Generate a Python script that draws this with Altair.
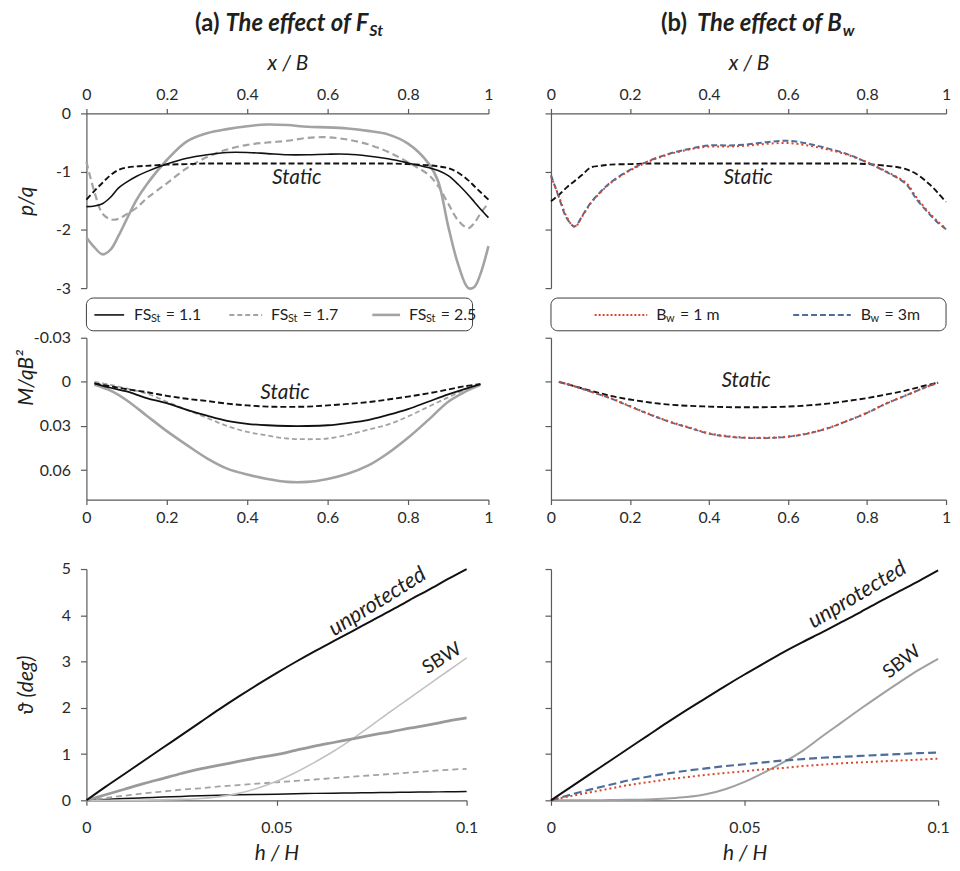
import altair as alt
import pandas as pd

FONT = "Lato"
INK = "#1f1f1f"
AX = "#5a5a5a"
RED = "#d9472b"
BLUE = "#4e6d98"
GRAY = "#a3a3a3"
LIGHT = "#c2c2c2"

# ---------------- data: pressure p/q along x/B ----------------
XB = [0, 0.02, 0.04, 0.06, 0.08, 0.1, 0.125, 0.15, 0.2, 0.25, 0.3, 0.35, 0.4, 0.45, 0.5,
      0.55, 0.6, 0.65, 0.7, 0.75, 0.8, 0.85, 0.875, 0.9, 0.925, 0.95, 0.965, 0.98, 1.0]
P_A_STATIC = [-1.48, -1.33, -1.19, -1.06, -0.97, -0.93, -0.91, -0.90, -0.88, -0.87,
              -0.86, -0.86, -0.86, -0.86, -0.86, -0.86, -0.86, -0.86, -0.86, -0.86,
              -0.87, -0.89, -0.91, -0.94, -1.02, -1.15, -1.25, -1.35, -1.48]
P_A_FS11 = [-1.60, -1.59, -1.55, -1.44, -1.28, -1.18, -1.08, -1.00, -0.87, -0.77,
            -0.71, -0.67, -0.67, -0.69, -0.71, -0.71, -0.70, -0.70, -0.73, -0.78,
            -0.85, -0.93, -0.98, -1.07, -1.22, -1.40, -1.52, -1.64, -1.79]
P_A_FS17 = [-0.83, -1.35, -1.72, -1.82, -1.81, -1.73, -1.62, -1.46, -1.20, -0.94,
            -0.75, -0.62, -0.54, -0.50, -0.47, -0.42, -0.41, -0.45, -0.53, -0.66,
            -0.84, -1.05, -1.25, -1.55, -1.84, -1.97, -1.88, -1.72, -1.54]
P_A_FS25 = [-2.13, -2.30, -2.42, -2.34, -2.10, -1.82, -1.48, -1.22, -0.80, -0.48,
            -0.34, -0.27, -0.22, -0.19, -0.20, -0.23, -0.24, -0.26, -0.30, -0.36,
            -0.52, -0.85, -1.17, -1.94, -2.60, -3.00, -2.98, -2.76, -2.28]
P_B_STATIC = [-1.51, -1.40, -1.27, -1.16, -1.05, -0.93, -0.90, -0.88, -0.87, -0.86,
              -0.86, -0.86, -0.86, -0.86, -0.86, -0.86, -0.86, -0.86, -0.86, -0.86,
              -0.87, -0.90, -0.92, -0.96, -1.04, -1.17, -1.26, -1.37, -1.52]
P_B_BW1 = [-1.08, -1.42, -1.78, -1.95, -1.76, -1.55, -1.36, -1.20, -0.98, -0.82,
           -0.70, -0.62, -0.57, -0.57, -0.55, -0.52, -0.51, -0.55, -0.62, -0.71,
           -0.84, -1.00, -1.09, -1.20, -1.44, -1.65, -1.76, -1.86, -1.98]
P_B_BW3 = [-1.06, -1.44, -1.80, -1.94, -1.75, -1.54, -1.35, -1.19, -0.97, -0.81,
           -0.69, -0.61, -0.55, -0.55, -0.53, -0.49, -0.47, -0.52, -0.60, -0.70,
           -0.84, -1.01, -1.10, -1.22, -1.47, -1.67, -1.78, -1.88, -1.99]

# ---------------- data: bending moment M/qB^2 ----------------
XM = [0.02, 0.06, 0.1, 0.15, 0.2, 0.25, 0.3, 0.35, 0.4, 0.45, 0.5,
      0.55, 0.6, 0.65, 0.7, 0.75, 0.8, 0.85, 0.9, 0.94, 0.98]
M_A_STATIC = [0.001, 0.003, 0.005, 0.007, 0.0095, 0.0115, 0.013, 0.0148, 0.016, 0.0168, 0.017,
              0.0168, 0.016, 0.015, 0.0138, 0.012, 0.010, 0.0078, 0.0052, 0.003, 0.0015]
M_A_FS11 = [0.001, 0.004, 0.0065, 0.011, 0.0145, 0.019, 0.023, 0.0265, 0.0285, 0.0295, 0.030,
            0.030, 0.0295, 0.028, 0.026, 0.0225, 0.0185, 0.0135, 0.0085, 0.005, 0.0015]
M_A_FS17 = [0.0, 0.002, 0.0045, 0.008, 0.0135, 0.019, 0.0245, 0.030, 0.034, 0.0365, 0.0385,
            0.039, 0.0385, 0.036, 0.0325, 0.029, 0.0235, 0.017, 0.0105, 0.0055, 0.0015]
M_A_FS25 = [0.002, 0.006, 0.0125, 0.023, 0.0335, 0.043, 0.052, 0.059, 0.063, 0.066, 0.068,
            0.068, 0.066, 0.0625, 0.057, 0.0485, 0.038, 0.026, 0.0135, 0.007, 0.002]
M_B_STATIC = [0.0, 0.003, 0.006, 0.0095, 0.012, 0.014, 0.0155, 0.0163, 0.0168, 0.0172, 0.0173,
              0.0172, 0.0168, 0.016, 0.0148, 0.013, 0.011, 0.0085, 0.0058, 0.003, 0.0005]
M_B_BW1 = [0.0, 0.003, 0.0065, 0.011, 0.0165, 0.022, 0.027, 0.031, 0.035, 0.037, 0.038,
           0.038, 0.0372, 0.035, 0.0315, 0.0265, 0.021, 0.0145, 0.009, 0.0045, 0.0005]
M_B_BW3 = [0.0, 0.003, 0.0066, 0.0112, 0.0167, 0.0222, 0.0272, 0.0313, 0.0352, 0.0373, 0.0382,
           0.0382, 0.0373, 0.0352, 0.0316, 0.0266, 0.0211, 0.0146, 0.0091, 0.0046, 0.0006]

# ---------------- data: rotation theta vs h/H ----------------
XH = [0, 0.005, 0.01, 0.015, 0.02, 0.025, 0.03, 0.035, 0.04, 0.045, 0.05,
      0.055, 0.06, 0.065, 0.07, 0.075, 0.08, 0.085, 0.09, 0.095, 0.1]
T_A_UNPROT = [0, 0.29, 0.57, 0.85, 1.13, 1.41, 1.69, 1.97, 2.24, 2.50, 2.75,
              2.99, 3.22, 3.44, 3.66, 3.88, 4.10, 4.33, 4.55, 4.78, 5.00]
T_A_SBW = [0, 0.0, 0.0, 0.005, 0.01, 0.02, 0.04, 0.08, 0.15, 0.26, 0.41,
           0.60, 0.82, 1.06, 1.33, 1.62, 1.92, 2.21, 2.50, 2.79, 3.08]
T_A_FS25 = [0, 0.12, 0.24, 0.36, 0.47, 0.58, 0.68, 0.76, 0.84, 0.92, 0.99,
            1.08, 1.17, 1.25, 1.33, 1.41, 1.48, 1.56, 1.63, 1.71, 1.78]
T_A_FS17 = [0, 0.05, 0.10, 0.15, 0.19, 0.23, 0.26, 0.30, 0.33, 0.36, 0.39,
            0.42, 0.45, 0.48, 0.51, 0.54, 0.57, 0.60, 0.63, 0.66, 0.68]
T_A_FS11 = [0, 0.02, 0.04, 0.055, 0.07, 0.085, 0.10, 0.11, 0.12, 0.125, 0.13,
            0.14, 0.15, 0.155, 0.16, 0.165, 0.17, 0.175, 0.18, 0.185, 0.19]
T_B_UNPROT = [0, 0.28, 0.56, 0.84, 1.12, 1.40, 1.68, 1.95, 2.21, 2.47, 2.72,
              2.96, 3.20, 3.42, 3.63, 3.85, 4.07, 4.30, 4.52, 4.74, 4.97]
T_B_SBW = [0, 0.0, 0.0, 0.005, 0.01, 0.02, 0.04, 0.07, 0.13, 0.24, 0.40,
           0.60, 0.82, 1.07, 1.38, 1.68, 1.98, 2.27, 2.55, 2.82, 3.06]
T_B_BW3 = [0, 0.12, 0.23, 0.33, 0.43, 0.51, 0.58, 0.64, 0.69, 0.74, 0.78,
           0.82, 0.86, 0.89, 0.92, 0.94, 0.96, 0.98, 1.00, 1.02, 1.03]
T_B_BW1 = [0, 0.09, 0.17, 0.25, 0.33, 0.39, 0.45, 0.50, 0.55, 0.59, 0.63,
           0.67, 0.70, 0.74, 0.77, 0.80, 0.82, 0.84, 0.86, 0.88, 0.90]

# ---------------- text ----------------
PANEL_TAGS = ["(a)", "(b)"]
PANEL_TITLES = ["The effect of F", "The effect of B"]
PANEL_SUBS = ["St", "w"]
FS_VALUES = ["= 1.1", "= 1.7", "= 2.5"]
BW_VALUES = ["= 1 m", "= 3m"]
X_TICKS_B = [0, 0.2, 0.4, 0.6, 0.8, 1]
P_TICKS = [-3, -2, -1, 0]
M_TICKS = [-0.03, 0, 0.03, 0.06]
H_TICKS = [0, 0.05, 0.1]
T_TICKS = [0, 1, 2, 3, 4, 5]

W_L, W_R = 405, 398
H1, HL, H2, HD, H3 = 176, 32, 163, 52, 233
W3_L, W3_R = 383, 390

INTERP = "catmull-rom"
LBL = dict(labelFontSize=16, labelColor="#2a2a2a", labelFont=FONT, labelFlush=False,
           labelOverlap=False, domainColor=AX, tickColor=AX, domainWidth=1.2, tickWidth=1.2,
           grid=False, labelExpr="toString(datum.value)")
TTL = dict(titleFont=FONT, titleFontStyle="italic", titleFontWeight="normal",
           titleColor=INK, titleFontSize=21)


def xaxis_top():
    return alt.Axis(orient="top", values=X_TICKS_B, title="x / B", tickSize=5, labelPadding=6,
                    minExtent=28, maxExtent=28, titlePadding=12, **LBL, **TTL)


def xaxis_bottom(values):
    return alt.Axis(orient="bottom", values=values, title=None, tickSize=5, labelPadding=5, **LBL)


def yaxis(values, title=None, title_y=None):
    if title is None:
        return alt.Axis(values=values, title=None, labels=False, tickSize=6,
                        **{k: v for k, v in LBL.items() if k != "labelExpr"})
    kw = dict(values=values, title=title, tickSize=6, labelPadding=10, minExtent=30, maxExtent=30,
              titlePadding=20, **LBL, **TTL)
    if title_y is not None:
        kw["titleY"] = title_y
    return alt.Axis(**kw)


def frame(x, y):
    return pd.DataFrame({"x": x, "y": y})


def line(x, y, ex, ey, **style):
    return alt.Chart(frame(x, y)).mark_line(interpolate=INTERP, **style).encode(x=ex, y=ey)


def note(x, y, text, ex, ey, **style):
    df = pd.DataFrame({"x": [x], "y": [y], "t": [text]})
    return alt.Chart(df).mark_text(font=FONT, color=INK, **style).encode(x=ex, y=ey, text="t:N")


def ptext(text, x, y, **style):
    df = pd.DataFrame({"t": [text]})
    return alt.Chart(df).mark_text(font=FONT, color=INK, baseline="middle", **style).encode(
        x=alt.value(x), y=alt.value(y), text="t:N")


def prule(x1, x2, y, **style):
    return alt.Chart(pd.DataFrame({"k": [0]})).mark_rule(**style).encode(
        x=alt.value(x1), x2=alt.value(x2), y=alt.value(y))


def pbox(x1, x2, y1, y2):
    return alt.Chart(pd.DataFrame({"k": [0]})).mark_rect(
        fill="white", stroke="#3c3c3c", strokeWidth=1, cornerRadius=7).encode(
        x=alt.value(x1), x2=alt.value(x2), y=alt.value(y1), y2=alt.value(y2))


STATIC = dict(color="#111111", strokeDash=[6, 3], strokeWidth=1.9)
NOTE = dict(fontSize=21, fontStyle="italic")

# ---------------- row 1: p/q ----------------
sx1 = alt.Scale(domain=[0, 1], nice=False, zero=False)
sy1 = alt.Scale(domain=[-3, 0], nice=False, zero=False)
ex1 = alt.X("x:Q", scale=sx1, axis=xaxis_top())
ey1a = alt.Y("y:Q", scale=sy1, axis=yaxis(P_TICKS, "p/q"))
ey1b = alt.Y("y:Q", scale=sy1, axis=yaxis(P_TICKS))

a1 = alt.layer(
    line(XB, P_A_FS25, ex1, ey1a, color=GRAY, strokeWidth=2.6),
    line(XB, P_A_FS17, ex1, ey1a, color=GRAY, strokeWidth=2.2, strokeDash=[7, 4]),
    line(XB, P_A_FS11, ex1, ey1a, color="#111111", strokeWidth=1.6),
    line(XB, P_A_STATIC, ex1, ey1a, **STATIC),
    note(0.523, -1.11, "Static", ex1, ey1a, **NOTE),
    ptext(PANEL_TAGS[0], 134, -90, align="right", fontSize=24, fontWeight="bold"),
    ptext(PANEL_TITLES[0], 284, -90, align="right", fontSize=24, fontWeight="bold", fontStyle="italic"),
    ptext(PANEL_SUBS[0], 285, -83, align="left", fontSize=16, fontWeight="bold", fontStyle="italic"),
).properties(width=W_L, height=H1)

b1 = alt.layer(
    line(XB, P_B_STATIC, ex1, ey1b, **STATIC),
    line(XB, P_B_BW3, ex1, ey1b, color=BLUE, strokeWidth=2, strokeDash=[6, 3]),
    line(XB, P_B_BW1, ex1, ey1b, color=RED, strokeWidth=2, strokeDash=[2, 3]),
    note(0.499, -1.11, "Static", ex1, ey1b, **NOTE),
    ptext(PANEL_TAGS[1], 137, -90, align="right", fontSize=24, fontWeight="bold"),
    ptext(PANEL_TITLES[1], 293, -90, align="right", fontSize=24, fontWeight="bold", fontStyle="italic"),
    ptext(PANEL_SUBS[1], 294, -83, align="left", fontSize=16, fontWeight="bold", fontStyle="italic"),
).properties(width=W_R, height=H1)

# ---------------- legend row ----------------
LY = 18
LF, SF = 16, 11
la = alt.layer(
    pbox(0, 389, 1, 34),
    prule(8, 38, LY, color="#111111", strokeWidth=1.6),
    ptext("FS", 48, LY, align="left", fontSize=LF),
    ptext("St", 65, LY + 4, align="left", fontSize=SF),
    ptext(FS_VALUES[0], 80, LY, align="left", fontSize=LF),
    prule(144, 177, LY, color=GRAY, strokeWidth=2, strokeDash=[5, 3]),
    ptext("FS", 186, LY, align="left", fontSize=LF),
    ptext("St", 203, LY + 4, align="left", fontSize=SF),
    ptext(FS_VALUES[1], 218, LY, align="left", fontSize=LF),
    prule(288, 316, LY, color=GRAY, strokeWidth=2.6),
    ptext("FS", 325, LY, align="left", fontSize=LF),
    ptext("St", 342, LY + 4, align="left", fontSize=SF),
    ptext(FS_VALUES[2], 357, LY, align="left", fontSize=LF),
).properties(width=W_L, height=HL)

lb = alt.layer(
    pbox(0, 398, 1, 34),
    prule(44, 97, LY, color=RED, strokeWidth=2, strokeDash=[2, 2]),
    ptext("B", 106, LY, align="left", fontSize=LF),
    ptext("w", 116, LY + 4, align="left", fontSize=SF),
    ptext(BW_VALUES[0], 130, LY, align="left", fontSize=LF),
    prule(244, 302, LY, color=BLUE, strokeWidth=2, strokeDash=[6, 3]),
    ptext("B", 312, LY, align="left", fontSize=LF),
    ptext("w", 322, LY + 4, align="left", fontSize=SF),
    ptext(BW_VALUES[1], 336, LY, align="left", fontSize=LF),
).properties(width=W_R, height=HL)

# ---------------- row 2: M/qB^2 ----------------
sy2 = alt.Scale(domain=[-0.03, 0.08], reverse=True, nice=False, zero=False)
ex2 = alt.X("x:Q", scale=sx1, axis=xaxis_bottom(X_TICKS_B))
ey2a = alt.Y("y:Q", scale=sy2, axis=yaxis(M_TICKS, "M/qB²", title_y=40))
ey2b = alt.Y("y:Q", scale=sy2, axis=yaxis(M_TICKS))

a2 = alt.layer(
    line(XM, M_A_FS25, ex2, ey2a, color=GRAY, strokeWidth=2.6),
    line(XM, M_A_FS17, ex2, ey2a, color=GRAY, strokeWidth=1.8, strokeDash=[5, 3]),
    line(XM, M_A_FS11, ex2, ey2a, color="#111111", strokeWidth=1.8),
    line(XM, M_A_STATIC, ex2, ey2a, **STATIC),
    note(0.494, 0.0075, "Static", ex2, ey2a, **NOTE),
).properties(width=W_L, height=H2)

b2 = alt.layer(
    line(XM, M_B_STATIC, ex2, ey2b, **STATIC),
    line(XM, M_B_BW3, ex2, ey2b, color=BLUE, strokeWidth=1.8, strokeDash=[5, 3]),
    line(XM, M_B_BW1, ex2, ey2b, color=RED, strokeWidth=2.2, strokeDash=[2, 3]),
    note(0.494, -0.0007, "Static", ex2, ey2b, **NOTE),
).properties(width=W_R, height=H2)


# ---------------- spacer row ----------------
def spacer(w):
    return alt.Chart(pd.DataFrame({"k": [0]})).mark_point(opacity=0).encode(
        x=alt.value(0), y=alt.value(0)).properties(width=w, height=HD)


# ---------------- row 3: theta ----------------
sx3 = alt.Scale(domain=[0, 0.1], nice=False, zero=False)
sy3 = alt.Scale(domain=[0, 5], nice=False, zero=False)
ex3 = alt.X("x:Q", scale=sx3, axis=alt.Axis(orient="bottom", values=H_TICKS, title="h / H",
                                             tickSize=5, labelPadding=14, minExtent=36, maxExtent=36,
                                             titlePadding=7, **LBL, **TTL))
ey3a = alt.Y("y:Q", scale=sy3, axis=yaxis(T_TICKS, "ϑ (deg)"))
ey3b = alt.Y("y:Q", scale=sy3, axis=yaxis(T_TICKS))

a3 = alt.layer(
    line(XH, T_A_FS11, ex3, ey3a, color="#111111", strokeWidth=1.5),
    line(XH, T_A_FS17, ex3, ey3a, color=GRAY, strokeWidth=1.8, strokeDash=[6, 4]),
    line(XH, T_A_SBW, ex3, ey3a, color=LIGHT, strokeWidth=1.6),
    line(XH, T_A_FS25, ex3, ey3a, color="#9a9a9a", strokeWidth=2.8),
    line(XH, T_A_UNPROT, ex3, ey3a, color="#111111", strokeWidth=2),
    note(0.0765, 4.3, "unprotected", ex3, ey3a, fontSize=22, fontStyle="italic", angle=328),
    note(0.0935, 3.07, "SBW", ex3, ey3a, fontSize=19, angle=328),
).properties(width=W3_L, height=H3)

b3 = alt.layer(
    line(XH, T_B_SBW, ex3, ey3b, color="#a0a0a0", strokeWidth=2),
    line(XH, T_B_BW3, ex3, ey3b, color=BLUE, strokeWidth=2.2, strokeDash=[8, 4]),
    line(XH, T_B_BW1, ex3, ey3b, color=RED, strokeWidth=2, strokeDash=[2, 3]),
    line(XH, T_B_UNPROT, ex3, ey3b, color="#111111", strokeWidth=2),
    note(0.0791, 4.45, "unprotected", ex3, ey3b, fontSize=22, fontStyle="italic", angle=329),
    note(0.0906, 3.0, "SBW", ex3, ey3b, fontSize=19, angle=322),
).properties(width=W3_R, height=H3)

chart = alt.concat(
    a1, b1, la, lb, a2, b2, spacer(1), spacer(1), a3, b3,
    columns=2,
    spacing={"row": 9, "column": 63},
    bounds="flush",
    align="each",
).properties(
    padding={"left": 7, "top": 0, "right": 0, "bottom": 0}
).configure_view(stroke="transparent")

chart.save("out.html", embed_options={"renderer": "svg", "actions": False})
